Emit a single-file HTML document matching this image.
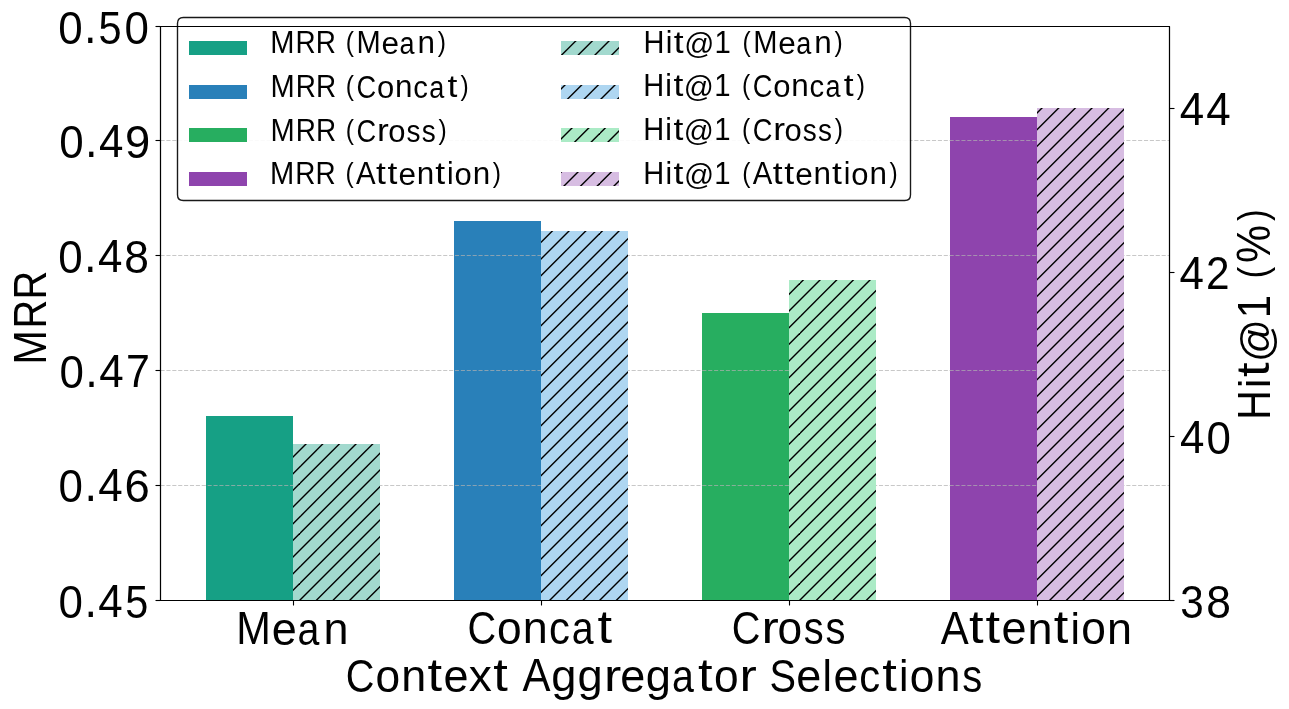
<!DOCTYPE html>
<html><head><meta charset="utf-8"><title>Context Aggregator Selections</title><style>
html,body{margin:0;padding:0;background:#fff;width:1289px;height:709px;overflow:hidden;}
svg{display:block;}
text{font-family:"Liberation Sans",sans-serif;fill:#000;font-kerning:normal;}
</style></head><body>
<svg width="1289" height="709" viewBox="0 0 1289 709">
<defs><pattern id="h" patternUnits="userSpaceOnUse" x="0" y="0" width="100" height="100"><line x1="-6.667" y1="-10" x2="-10" y2="-6.667" stroke="#000" stroke-width="1.39"/><line x1="10.000" y1="-10" x2="-10" y2="10.000" stroke="#000" stroke-width="1.39"/><line x1="26.667" y1="-10" x2="-10" y2="26.667" stroke="#000" stroke-width="1.39"/><line x1="43.333" y1="-10" x2="-10" y2="43.333" stroke="#000" stroke-width="1.39"/><line x1="60.000" y1="-10" x2="-10" y2="60.000" stroke="#000" stroke-width="1.39"/><line x1="76.667" y1="-10" x2="-10" y2="76.667" stroke="#000" stroke-width="1.39"/><line x1="93.333" y1="-10" x2="-10" y2="93.333" stroke="#000" stroke-width="1.39"/><line x1="110.000" y1="-10" x2="-10" y2="110.000" stroke="#000" stroke-width="1.39"/><line x1="126.667" y1="-10" x2="-10" y2="126.667" stroke="#000" stroke-width="1.39"/><line x1="143.333" y1="-10" x2="-10" y2="143.333" stroke="#000" stroke-width="1.39"/><line x1="160.000" y1="-10" x2="-10" y2="160.000" stroke="#000" stroke-width="1.39"/><line x1="176.667" y1="-10" x2="-10" y2="176.667" stroke="#000" stroke-width="1.39"/><line x1="193.333" y1="-10" x2="-10" y2="193.333" stroke="#000" stroke-width="1.39"/><line x1="210.000" y1="-10" x2="-10" y2="210.000" stroke="#000" stroke-width="1.39"/><line x1="226.667" y1="-10" x2="-10" y2="226.667" stroke="#000" stroke-width="1.39"/></pattern></defs>
<g id="gfx">
<rect x="0" y="0" width="1289" height="709" fill="#fff"/>
<rect x="206" y="416" width="87" height="184" fill="#16a085" shape-rendering="crispEdges"/>
<rect x="454" y="221" width="87" height="379" fill="#2980b9" shape-rendering="crispEdges"/>
<rect x="702" y="313" width="87" height="287" fill="#27ae60" shape-rendering="crispEdges"/>
<rect x="950" y="117" width="87" height="483" fill="#8e44ad" shape-rendering="crispEdges"/>
<line x1="160.5" y1="140.5" x2="1169.5" y2="140.5" stroke="#b0b0b0" stroke-opacity="0.7" stroke-width="1.111" stroke-dasharray="4.111 1.778"/>
<line x1="160.5" y1="255.5" x2="1169.5" y2="255.5" stroke="#b0b0b0" stroke-opacity="0.7" stroke-width="1.111" stroke-dasharray="4.111 1.778"/>
<line x1="160.5" y1="370.5" x2="1169.5" y2="370.5" stroke="#b0b0b0" stroke-opacity="0.7" stroke-width="1.111" stroke-dasharray="4.111 1.778"/>
<line x1="160.5" y1="485.5" x2="1169.5" y2="485.5" stroke="#b0b0b0" stroke-opacity="0.7" stroke-width="1.111" stroke-dasharray="4.111 1.778"/>
<path d="M160.5 26.5H1169.5M160.5 26.5V600.5M1169.5 26.5V600.5M160.5 600.5H1169.5" stroke="#000" stroke-width="1.111" fill="none"/>
<line x1="155.5" y1="26.5" x2="160.5" y2="26.5" stroke="#000" stroke-width="1.111"/>
<line x1="155.5" y1="140.5" x2="160.5" y2="140.5" stroke="#000" stroke-width="1.111"/>
<line x1="155.5" y1="255.5" x2="160.5" y2="255.5" stroke="#000" stroke-width="1.111"/>
<line x1="155.5" y1="370.5" x2="160.5" y2="370.5" stroke="#000" stroke-width="1.111"/>
<line x1="155.5" y1="485.5" x2="160.5" y2="485.5" stroke="#000" stroke-width="1.111"/>
<line x1="155.5" y1="600.5" x2="160.5" y2="600.5" stroke="#000" stroke-width="1.111"/>
<path d="M183.333 17.5H904.667Q910.5 17.5 910.5 23.333V194.667Q910.5 200.5 904.667 200.5H183.333Q177.5 200.5 177.5 194.667V23.333Q177.5 17.5 183.333 17.5Z" fill="#fff" fill-opacity="0.9" stroke="#000" stroke-opacity="0.9" stroke-width="1.39"/>
<rect x="189" y="41" width="58" height="14" fill="#16a085" shape-rendering="crispEdges"/>
<rect x="189" y="85" width="58" height="14" fill="#2980b9" shape-rendering="crispEdges"/>
<rect x="189" y="128" width="58" height="14" fill="#27ae60" shape-rendering="crispEdges"/>
<rect x="189" y="172" width="58" height="14" fill="#8e44ad" shape-rendering="crispEdges"/>
<rect x="561" y="41" width="58" height="14" fill="#a2d9ce" shape-rendering="crispEdges"/>
<rect x="561" y="41" width="58" height="14" fill="url(#h)" shape-rendering="crispEdges"/>
<rect x="561" y="85" width="58" height="14" fill="#aed6f1" shape-rendering="crispEdges"/>
<rect x="561" y="85" width="58" height="14" fill="url(#h)" shape-rendering="crispEdges"/>
<rect x="561" y="128" width="58" height="14" fill="#abebc6" shape-rendering="crispEdges"/>
<rect x="561" y="128" width="58" height="14" fill="url(#h)" shape-rendering="crispEdges"/>
<rect x="561" y="172" width="58" height="14" fill="#d7bde2" shape-rendering="crispEdges"/>
<rect x="561" y="172" width="58" height="14" fill="url(#h)" shape-rendering="crispEdges"/>
<rect x="293" y="444" width="87" height="156" fill="#a2d9ce" shape-rendering="crispEdges"/>
<rect x="293" y="444" width="87" height="156" fill="url(#h)"/>
<rect x="541" y="231" width="87" height="369" fill="#aed6f1" shape-rendering="crispEdges"/>
<rect x="541" y="231" width="87" height="369" fill="url(#h)"/>
<rect x="789" y="280" width="87" height="320" fill="#abebc6" shape-rendering="crispEdges"/>
<rect x="789" y="280" width="87" height="320" fill="url(#h)"/>
<rect x="1037" y="108" width="87" height="492" fill="#d7bde2" shape-rendering="crispEdges"/>
<rect x="1037" y="108" width="87" height="492" fill="url(#h)"/>
<path d="M160.5 26.5H1169.5M160.5 26.5V600.5M1169.5 26.5V600.5M160.5 600.5H1169.5" stroke="#000" stroke-width="1.111" fill="none" stroke-linecap="square"/>
<line x1="1169.5" y1="108.5" x2="1174.5" y2="108.5" stroke="#000" stroke-width="1.111"/>
<line x1="1169.5" y1="272.5" x2="1174.5" y2="272.5" stroke="#000" stroke-width="1.111"/>
<line x1="1169.5" y1="436.5" x2="1174.5" y2="436.5" stroke="#000" stroke-width="1.111"/>
<line x1="1169.5" y1="600.5" x2="1174.5" y2="600.5" stroke="#000" stroke-width="1.111"/>
<line x1="293.5" y1="600.5" x2="293.5" y2="605.5" stroke="#000" stroke-width="1.111"/>
<line x1="541.5" y1="600.5" x2="541.5" y2="605.5" stroke="#000" stroke-width="1.111"/>
<line x1="789.5" y1="600.5" x2="789.5" y2="605.5" stroke="#000" stroke-width="1.111"/>
<line x1="1037.5" y1="600.5" x2="1037.5" y2="605.5" stroke="#000" stroke-width="1.111"/>
</g>
<g id="texts" style="opacity:0.999">
<g id="t0"><text font-size="44.17" transform="translate(236.140,644.199) scale(0.9406,1.0350)">M</text><text font-size="44.17" transform="translate(271.846,644.800) scale(1.0190,1.0463)">e</text><text font-size="44.17" transform="translate(297.452,644.800) scale(0.8894,1.0463)">a</text><text font-size="44.17" transform="translate(323.385,644.199) scale(1.0171,1.0211)">n</text></g>
<g id="t1"><text font-size="44.17" transform="translate(467.538,643.575) scale(0.8987,1.0573)">C</text><text font-size="44.17" transform="translate(497.099,643.580) scale(1.0029,1.0463)">o</text><text font-size="44.17" transform="translate(522.836,642.979) scale(1.0171,1.0211)">n</text><text font-size="44.17" transform="translate(548.933,643.580) scale(0.9466,1.0463)">c</text><text font-size="44.17" transform="translate(571.653,643.580) scale(0.8894,1.0463)">a</text><text font-size="44.17" transform="translate(597.519,642.623) scale(1.1882,1.0332)">t</text></g>
<g id="t2"><text font-size="44.17" transform="translate(731.746,643.575) scale(0.8987,1.0573)">C</text><text font-size="44.17" transform="translate(761.399,642.979) scale(1.1742,1.0211)">r</text><text font-size="44.17" transform="translate(777.557,643.580) scale(1.0029,1.0463)">o</text><text font-size="44.17" transform="translate(803.640,643.579) scale(0.9043,1.0491)">s</text><text font-size="44.17" transform="translate(825.390,643.579) scale(0.9043,1.0491)">s</text></g>
<g id="t3"><text font-size="44.17" transform="translate(940.772,643.853) scale(0.9503,1.0350)">A</text><text font-size="44.17" transform="translate(969.013,643.497) scale(1.1882,1.0332)">t</text><text font-size="44.17" transform="translate(985.388,643.497) scale(1.1882,1.0332)">t</text><text font-size="44.17" transform="translate(1001.415,644.454) scale(1.0190,1.0463)">e</text><text font-size="44.17" transform="translate(1027.454,643.853) scale(1.0171,1.0211)">n</text><text font-size="44.17" transform="translate(1053.763,643.497) scale(1.1882,1.0332)">t</text><text font-size="44.17" transform="translate(1070.481,643.853) scale(0.9644,1.0236)">i</text><text font-size="44.17" transform="translate(1081.342,644.454) scale(1.0029,1.0463)">o</text><text font-size="44.17" transform="translate(1107.079,643.853) scale(1.0171,1.0211)">n</text></g>
<g id="t4"><text font-size="44.17" transform="translate(345.871,691.553) scale(0.8987,1.0573)">C</text><text font-size="44.17" transform="translate(375.432,691.557) scale(1.0029,1.0463)">o</text><text font-size="44.17" transform="translate(401.169,690.956) scale(1.0171,1.0211)">n</text><text font-size="44.17" transform="translate(427.478,690.600) scale(1.1882,1.0332)">t</text><text font-size="44.17" transform="translate(443.505,691.557) scale(1.0190,1.0463)">e</text><text font-size="44.17" transform="translate(468.675,690.956) scale(1.0465,0.9966)">x</text><text font-size="44.17" transform="translate(493.353,690.600) scale(1.1882,1.0332)">t</text><text font-size="44.17" transform="translate(522.487,690.956) scale(0.9503,1.0350)">A</text><text font-size="44.17" transform="translate(551.141,690.568) scale(1.0253,1.0075)">g</text><text font-size="44.17" transform="translate(577.516,690.568) scale(1.0253,1.0075)">g</text><text font-size="44.17" transform="translate(604.024,690.956) scale(1.1742,1.0211)">r</text><text font-size="44.17" transform="translate(620.130,691.557) scale(1.0190,1.0463)">e</text><text font-size="44.17" transform="translate(645.766,690.568) scale(1.0253,1.0075)">g</text><text font-size="44.17" transform="translate(672.111,691.557) scale(0.8894,1.0463)">a</text><text font-size="44.17" transform="translate(697.978,690.600) scale(1.1882,1.0332)">t</text><text font-size="44.17" transform="translate(714.057,691.557) scale(1.0029,1.0463)">o</text><text font-size="44.17" transform="translate(739.524,690.956) scale(1.1742,1.0211)">r</text><text font-size="44.17" transform="translate(769.578,691.553) scale(0.8987,1.0573)">S</text><text font-size="44.17" transform="translate(796.255,691.557) scale(1.0190,1.0463)">e</text><text font-size="44.17" transform="translate(822.550,690.956) scale(0.9644,1.0236)">l</text><text font-size="44.17" transform="translate(833.380,691.557) scale(1.0190,1.0463)">e</text><text font-size="44.17" transform="translate(859.141,691.557) scale(0.9466,1.0463)">c</text><text font-size="44.17" transform="translate(882.228,690.600) scale(1.1882,1.0332)">t</text><text font-size="44.17" transform="translate(898.946,690.956) scale(0.9644,1.0236)">i</text><text font-size="44.17" transform="translate(909.807,691.557) scale(1.0029,1.0463)">o</text><text font-size="44.17" transform="translate(935.544,690.956) scale(1.0171,1.0211)">n</text><text font-size="44.17" transform="translate(962.265,691.556) scale(0.9043,1.0491)">s</text></g>
<g id="t5"><text font-size="44.17" transform="translate(58.599,617.575) scale(0.9945,1.0573)">0</text><text font-size="44.17" transform="translate(84.407,616.979) scale(1.0208,1.1167)">.</text><text font-size="44.17" transform="translate(98.344,616.979) scale(0.9946,1.0350)">4</text><text font-size="44.17" transform="translate(125.373,617.577) scale(0.9385,1.0547)">5</text></g>
<g id="t6"><text font-size="44.17" transform="translate(58.590,501.575) scale(0.9945,1.0573)">0</text><text font-size="44.17" transform="translate(84.398,500.979) scale(1.0208,1.1167)">.</text><text font-size="44.17" transform="translate(98.336,500.979) scale(0.9946,1.0350)">4</text><text font-size="44.17" transform="translate(124.410,501.575) scale(1.0293,1.0573)">6</text></g>
<g id="t7"><text font-size="44.17" transform="translate(59.558,387.575) scale(0.9945,1.0573)">0</text><text font-size="44.17" transform="translate(85.366,386.979) scale(1.0208,1.1167)">.</text><text font-size="44.17" transform="translate(99.303,386.979) scale(0.9946,1.0350)">4</text><text font-size="44.17" transform="translate(125.992,386.979) scale(0.9728,1.0350)">7</text></g>
<g id="t8"><text font-size="44.17" transform="translate(58.202,272.575) scale(0.9945,1.0573)">0</text><text font-size="44.17" transform="translate(84.010,271.979) scale(1.0208,1.1167)">.</text><text font-size="44.17" transform="translate(97.947,271.979) scale(0.9946,1.0350)">4</text><text font-size="44.17" transform="translate(124.320,272.575) scale(1.0052,1.0573)">8</text></g>
<g id="t9"><text font-size="44.17" transform="translate(59.243,157.575) scale(0.9945,1.0573)">0</text><text font-size="44.17" transform="translate(85.051,156.979) scale(1.0208,1.1167)">.</text><text font-size="44.17" transform="translate(98.988,156.979) scale(0.9946,1.0350)">4</text><text font-size="44.17" transform="translate(124.960,157.575) scale(1.0272,1.0573)">9</text></g>
<g id="t10"><text font-size="44.17" transform="translate(58.161,43.575) scale(0.9945,1.0573)">0</text><text font-size="44.17" transform="translate(83.969,42.979) scale(1.0208,1.1167)">.</text><text font-size="44.17" transform="translate(98.435,43.577) scale(0.9385,1.0547)">5</text><text font-size="44.17" transform="translate(124.411,43.575) scale(0.9945,1.0573)">0</text></g>
<g id="t11"><text font-size="44.17" transform="translate(46.225,364.739) rotate(-90) scale(0.9406,1.0350)">M</text><text font-size="44.17" transform="translate(46.225,328.600) rotate(-90) scale(0.9023,1.0350)">R</text><text font-size="44.17" transform="translate(46.225,299.600) rotate(-90) scale(0.9023,1.0350)">R</text></g>
<g id="t12"><text font-size="30.92" transform="translate(270.297,53.255) scale(0.9406,1.0085)">M</text><text font-size="30.92" transform="translate(295.519,53.255) scale(0.9023,1.0085)">R</text><text font-size="30.92" transform="translate(315.769,53.255) scale(0.9023,1.0085)">R</text><text font-size="30.92" transform="translate(345.673,51.252) scale(0.7975,0.9064)">(</text><text font-size="30.92" transform="translate(356.547,53.255) scale(0.9406,1.0085)">M</text><text font-size="30.92" transform="translate(381.466,53.802) scale(1.0190,1.0297)">e</text><text font-size="30.92" transform="translate(399.458,53.802) scale(0.8753,1.0297)">a</text><text font-size="30.92" transform="translate(417.506,53.255) scale(1.0171,0.9968)">n</text><text font-size="30.92" transform="translate(437.636,51.252) scale(0.7975,0.9064)">)</text></g>
<g id="t13"><text font-size="30.92" transform="translate(270.422,97.255) scale(0.9406,1.0085)">M</text><text font-size="30.92" transform="translate(295.644,97.255) scale(0.9023,1.0085)">R</text><text font-size="30.92" transform="translate(315.894,97.255) scale(0.9023,1.0085)">R</text><text font-size="30.92" transform="translate(345.798,95.252) scale(0.7975,0.9064)">(</text><text font-size="30.92" transform="translate(356.398,97.800) scale(0.8810,1.0365)">C</text><text font-size="30.92" transform="translate(376.877,97.802) scale(1.0029,1.0297)">o</text><text font-size="30.92" transform="translate(395.006,97.255) scale(1.0171,0.9968)">n</text><text font-size="30.92" transform="translate(413.311,97.802) scale(0.9466,1.0297)">c</text><text font-size="30.92" transform="translate(429.333,97.802) scale(0.8753,1.0297)">a</text><text font-size="30.92" transform="translate(447.503,97.014) scale(1.1499,0.9999)">t</text><text font-size="30.92" transform="translate(460.511,95.252) scale(0.7975,0.9064)">)</text></g>
<g id="t14"><text font-size="30.92" transform="translate(270.422,141.255) scale(0.9406,1.0085)">M</text><text font-size="30.92" transform="translate(295.644,141.255) scale(0.9023,1.0085)">R</text><text font-size="30.92" transform="translate(315.894,141.255) scale(0.9023,1.0085)">R</text><text font-size="30.92" transform="translate(345.798,139.252) scale(0.7975,0.9064)">(</text><text font-size="30.92" transform="translate(356.398,141.800) scale(0.8810,1.0365)">C</text><text font-size="30.92" transform="translate(377.106,141.255) scale(1.1464,0.9968)">r</text><text font-size="30.92" transform="translate(388.252,141.802) scale(1.0029,1.0297)">o</text><text font-size="30.92" transform="translate(406.623,141.801) scale(0.9043,1.0325)">s</text><text font-size="30.92" transform="translate(421.873,141.801) scale(0.9043,1.0325)">s</text><text font-size="30.92" transform="translate(438.511,139.252) scale(0.7975,0.9064)">)</text></g>
<g id="t15"><text font-size="30.92" transform="translate(270.109,184.269) scale(0.9406,1.0085)">M</text><text font-size="30.92" transform="translate(295.332,184.269) scale(0.9023,1.0085)">R</text><text font-size="30.92" transform="translate(315.582,184.269) scale(0.9023,1.0085)">R</text><text font-size="30.92" transform="translate(345.485,182.266) scale(0.7975,0.9064)">(</text><text font-size="30.92" transform="translate(356.053,184.269) scale(0.9503,1.0085)">A</text><text font-size="30.92" transform="translate(375.941,184.028) scale(1.1499,0.9999)">t</text><text font-size="30.92" transform="translate(387.441,184.028) scale(1.1499,0.9999)">t</text><text font-size="30.92" transform="translate(398.528,184.816) scale(1.0190,1.0297)">e</text><text font-size="30.92" transform="translate(416.693,184.269) scale(1.0171,0.9968)">n</text><text font-size="30.92" transform="translate(435.316,184.028) scale(1.1499,0.9999)">t</text><text font-size="30.92" transform="translate(446.887,184.269) scale(0.9644,0.9970)">i</text><text font-size="30.92" transform="translate(454.565,184.816) scale(1.0029,1.0297)">o</text><text font-size="30.92" transform="translate(472.693,184.269) scale(1.0171,0.9968)">n</text><text font-size="30.92" transform="translate(492.824,182.266) scale(0.7975,0.9064)">)</text></g>
<g id="t16"><text font-size="30.92" transform="translate(643.553,53.164) scale(0.9384,1.0085)">H</text><text font-size="30.92" transform="translate(665.699,53.164) scale(0.9644,0.9970)">i</text><text font-size="30.92" transform="translate(673.753,52.923) scale(1.1499,0.9999)">t</text><text font-size="30.92" transform="translate(684.162,54.121) scale(0.9591,0.9481)">@</text><text font-size="30.92" transform="translate(714.538,53.164) scale(0.9498,1.0085)">1</text><text font-size="30.92" transform="translate(742.423,51.161) scale(0.7975,0.9064)">(</text><text font-size="30.92" transform="translate(753.297,53.164) scale(0.9406,1.0085)">M</text><text font-size="30.92" transform="translate(778.216,53.711) scale(1.0190,1.0297)">e</text><text font-size="30.92" transform="translate(796.208,53.711) scale(0.8753,1.0297)">a</text><text font-size="30.92" transform="translate(814.256,53.164) scale(1.0171,0.9968)">n</text><text font-size="30.92" transform="translate(834.386,51.161) scale(0.7975,0.9064)">)</text></g>
<g id="t17"><text font-size="30.92" transform="translate(643.178,96.164) scale(0.9384,1.0085)">H</text><text font-size="30.92" transform="translate(665.324,96.164) scale(0.9644,0.9970)">i</text><text font-size="30.92" transform="translate(673.378,95.923) scale(1.1499,0.9999)">t</text><text font-size="30.92" transform="translate(683.787,97.121) scale(0.9591,0.9481)">@</text><text font-size="30.92" transform="translate(714.163,96.164) scale(0.9498,1.0085)">1</text><text font-size="30.92" transform="translate(742.048,94.161) scale(0.7975,0.9064)">(</text><text font-size="30.92" transform="translate(752.648,96.709) scale(0.8810,1.0365)">C</text><text font-size="30.92" transform="translate(773.127,96.711) scale(1.0029,1.0297)">o</text><text font-size="30.92" transform="translate(791.256,96.164) scale(1.0171,0.9968)">n</text><text font-size="30.92" transform="translate(809.561,96.711) scale(0.9466,1.0297)">c</text><text font-size="30.92" transform="translate(825.583,96.711) scale(0.8753,1.0297)">a</text><text font-size="30.92" transform="translate(843.753,95.923) scale(1.1499,0.9999)">t</text><text font-size="30.92" transform="translate(856.761,94.161) scale(0.7975,0.9064)">)</text></g>
<g id="t18"><text font-size="30.92" transform="translate(643.178,140.164) scale(0.9384,1.0085)">H</text><text font-size="30.92" transform="translate(665.324,140.164) scale(0.9644,0.9970)">i</text><text font-size="30.92" transform="translate(673.378,139.923) scale(1.1499,0.9999)">t</text><text font-size="30.92" transform="translate(683.787,141.121) scale(0.9591,0.9481)">@</text><text font-size="30.92" transform="translate(714.163,140.164) scale(0.9498,1.0085)">1</text><text font-size="30.92" transform="translate(742.048,138.161) scale(0.7975,0.9064)">(</text><text font-size="30.92" transform="translate(752.648,140.709) scale(0.8810,1.0365)">C</text><text font-size="30.92" transform="translate(773.356,140.164) scale(1.1464,0.9968)">r</text><text font-size="30.92" transform="translate(784.502,140.711) scale(1.0029,1.0297)">o</text><text font-size="30.92" transform="translate(802.873,140.711) scale(0.9043,1.0325)">s</text><text font-size="30.92" transform="translate(818.123,140.711) scale(0.9043,1.0325)">s</text><text font-size="30.92" transform="translate(834.761,138.161) scale(0.7975,0.9064)">)</text></g>
<g id="t19"><text font-size="30.92" transform="translate(643.365,184.164) scale(0.9384,1.0085)">H</text><text font-size="30.92" transform="translate(665.512,184.164) scale(0.9644,0.9970)">i</text><text font-size="30.92" transform="translate(673.566,183.923) scale(1.1499,0.9999)">t</text><text font-size="30.92" transform="translate(683.974,185.121) scale(0.9591,0.9481)">@</text><text font-size="30.92" transform="translate(714.350,184.164) scale(0.9498,1.0085)">1</text><text font-size="30.92" transform="translate(742.235,182.161) scale(0.7975,0.9064)">(</text><text font-size="30.92" transform="translate(752.803,184.164) scale(0.9503,1.0085)">A</text><text font-size="30.92" transform="translate(772.691,183.923) scale(1.1499,0.9999)">t</text><text font-size="30.92" transform="translate(784.191,183.923) scale(1.1499,0.9999)">t</text><text font-size="30.92" transform="translate(795.278,184.711) scale(1.0190,1.0297)">e</text><text font-size="30.92" transform="translate(813.443,184.164) scale(1.0171,0.9968)">n</text><text font-size="30.92" transform="translate(832.066,183.923) scale(1.1499,0.9999)">t</text><text font-size="30.92" transform="translate(843.637,184.164) scale(0.9644,0.9970)">i</text><text font-size="30.92" transform="translate(851.315,184.711) scale(1.0029,1.0297)">o</text><text font-size="30.92" transform="translate(869.443,184.164) scale(1.0171,0.9968)">n</text><text font-size="30.92" transform="translate(889.574,182.161) scale(0.7975,0.9064)">)</text></g>
<g id="t20"><text font-size="44.17" transform="translate(1180.337,617.575) scale(0.9551,1.0573)">3</text><text font-size="44.17" transform="translate(1206.293,617.575) scale(1.0052,1.0573)">8</text></g>
<g id="t21"><text font-size="44.17" transform="translate(1179.888,452.979) scale(0.9946,1.0350)">4</text><text font-size="44.17" transform="translate(1206.392,453.575) scale(0.9945,1.0573)">0</text></g>
<g id="t22"><text font-size="44.17" transform="translate(1179.590,289.005) scale(0.9946,1.0350)">4</text><text font-size="44.17" transform="translate(1205.986,289.005) scale(0.9586,1.0380)">2</text></g>
<g id="t23"><text font-size="44.17" transform="translate(1179.674,125.225) scale(0.9946,1.0350)">4</text><text font-size="44.17" transform="translate(1206.174,125.225) scale(0.9946,1.0350)">4</text></g>
<g id="t24"><text font-size="44.17" transform="translate(1269.683,419.880) rotate(-90) scale(0.9384,1.0350)">H</text><text font-size="44.17" transform="translate(1269.683,388.117) rotate(-90) scale(0.9644,1.0236)">i</text><text font-size="44.17" transform="translate(1269.327,376.960) rotate(-90) scale(1.1882,1.0332)">t</text><text font-size="44.17" transform="translate(1271.096,361.903) rotate(-90) scale(0.9591,0.9797)">@</text><text font-size="44.17" transform="translate(1269.683,318.312) rotate(-90) scale(0.9498,1.0350)">1</text><text font-size="44.17" transform="translate(1266.773,278.548) rotate(-90) scale(0.7975,0.9314)">(</text><text font-size="44.17" transform="translate(1270.458,262.921) rotate(-90) scale(0.9687,1.0699)">%</text><text font-size="44.17" transform="translate(1266.773,221.064) rotate(-90) scale(0.7975,0.9314)">)</text></g>
</g>
</svg>
</body></html>
